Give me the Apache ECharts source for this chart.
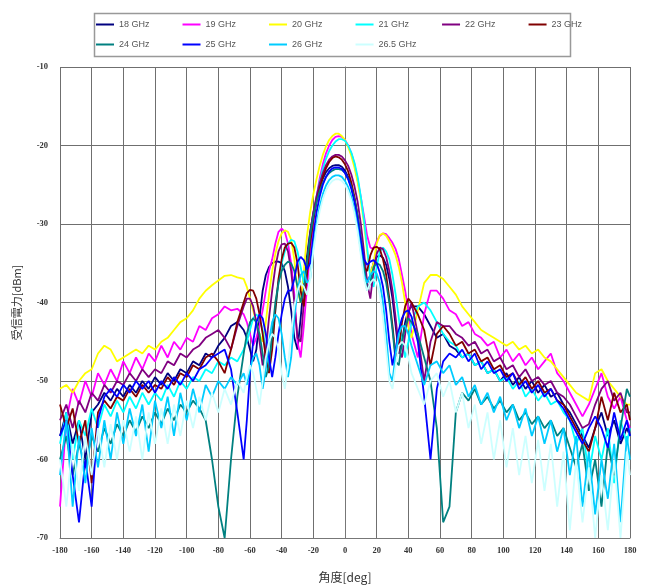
<!DOCTYPE html>
<html>
<head>
<meta charset="utf-8">
<script src="https://cdn.jsdelivr.net/npm/echarts@6.0.0/dist/echarts.min.js"></script>
<style>
  html, body { margin: 0; padding: 0; background: #fff; }
  #main { width: 648px; height: 588px; }
</style>
</head>
<body>
<div id="main"></div>
<script>
// angle grid [deg]: 4 deg steps outside, 2 deg steps around the main lobe
var angles = [
  -180,-176,-172,-168,-164,-160,-156,-152,-148,-144,-140,-136,-132,-128,-124,-120,-116,-112,-108,-104,-100,-96,-92,-88,-84,-80,-76,-72,-68,-64,
  -62,-60,-58,-56,-54,-52,-50,-48,-46,-44,-42,-40,-38,-36,-34,-32,-30,-28,-26,-24,-22,-20,-18,-16,-14,-12,-10,-8,-6,-4,-2,0,2,4,6,8,10,12,14,16,18,20,22,24,26,28,30,32,34,36,38,40,42,
  46,50,54,58,62,66,70,74,78,82,86,90,94,98,102,106,110,114,118,122,126,130,134,138,142,146,150,154,158,162,166,170,174,178,180
];

// received power [dBm] per frequency
var p18 = [
  -57,-54,-58,-55,-60,-54,-53,-51.5,-52.5,-51,-52,-50.5,-51.5,-50,-51,-49.5,-50.5,-49,-50,-48.5,-49,-47.5,-48,-46.5,-47,-45.5,-44.5,-43,-42.5,-43.5,
  -44.5,-46,-47.5,-46,-42,-38.5,-36.5,-35.5,-35,-34.8,-34.8,-35,-36,-38,-41,-44.5,-46,-42,-37.5,-34,-31,-28.6,-26.8,-25.3,-24.2,-23.4,-22.9,-22.6,-22.5,-22.5,-22.7,-23.2,-24,-25.2,-26.8,-29,-31.8,-35,-37.5,-36.5,-35,-34.2,-34,-34.3,-35.2,-37,-39.5,-43,-46.5,-45,-42.5,-41,-40.5,
  -40.5,-41.5,-43,-44.5,-44,-45.5,-46,-47,-46.5,-48,-47.5,-49,-48.5,-50,-49,-50.5,-49.5,-51,-50,-51.5,-50.5,-52,-51.5,-53,-54,-55.5,-57,-58.5,-56,-54,-57,-55,-58,-56,-57
];
var p19 = [
  -66,-55,-51,-53,-50,-52,-49,-50.5,-48.5,-50,-47.5,-49,-47,-48.5,-46.5,-47.5,-45.5,-47,-45,-46,-44.5,-45,-43,-43.5,-42,-41.5,-40.5,-41,-40.8,-41.5,
  -42.5,-44,-45.5,-44.5,-43,-41,-38.5,-36,-34.5,-32.5,-31,-30.6,-31,-32.5,-35,-39,-45,-47,-43,-38,-33.5,-29.8,-26.6,-24.2,-22.4,-21,-20,-19.3,-18.9,-18.8,-18.9,-19.3,-20,-21,-22.4,-24.4,-26.6,-29,-31.5,-33,-33.2,-32.2,-31.5,-31.2,-31.3,-31.8,-32.4,-33.2,-34.5,-36.5,-38.5,-41,-44,
  -47,-41.5,-38.5,-38.5,-39.5,-41,-41.5,-43,-42.5,-44,-44.5,-45.5,-45,-47,-46,-47.5,-46.5,-48,-47,-48.5,-47.5,-46.5,-49,-50,-51.5,-53,-54.5,-53,-51,-49,-52,-53.5,-52,-55,-56
];
var p20 = [
  -51,-50.5,-51.5,-50,-49,-48.5,-46.5,-45.5,-46,-47.5,-47,-46.5,-46,-46.5,-45.5,-46,-45,-44.5,-43.5,-42.5,-42,-41,-39.5,-38.5,-37.8,-37.2,-36.6,-36.5,-36.8,-37,
  -38,-39.5,-41,-42.5,-44,-45,-42.5,-39,-36,-33.8,-32.2,-31.2,-30.8,-31,-32,-34.5,-38.5,-40,-36,-31.5,-28.5,-26.2,-24.3,-22.6,-21.2,-20.1,-19.3,-18.8,-18.5,-18.5,-18.8,-19.3,-20.2,-21.3,-22.8,-24.7,-27,-30,-33.5,-36.5,-35,-32.5,-31.4,-31.2,-31.5,-32.2,-33,-34,-35.5,-37.5,-40,-43,-44.5,
  -41,-37.5,-36.5,-36.5,-37,-38,-39,-40.5,-41.5,-42.5,-43.5,-44,-44.5,-45,-45.5,-45,-46,-45.5,-46.5,-46,-47,-47.5,-48.5,-49.5,-50.5,-51.5,-52,-52.5,-49,-48.5,-50,-51,-52,-53,-53
];
var p21 = [
  -58,-54,-60,-55,-57,-53.5,-56,-53,-54.5,-52.5,-54,-52,-53.5,-51.5,-53,-51.5,-52.5,-50.5,-52,-50,-51,-49.5,-50,-48.5,-49,-47.5,-48,-47,-47.5,-46,
  -45,-43.5,-42,-41.5,-42,-43.5,-46,-48,-45,-41,-37.5,-35,-33.5,-32.5,-32,-32.2,-33.5,-35.5,-37.5,-36,-32,-29,-26.6,-24.6,-23,-21.7,-20.7,-20,-19.5,-19.2,-19.2,-19.4,-20,-20.9,-22.2,-24,-26.5,-29.5,-33,-37,-38,-35.5,-33.5,-33,-33.5,-34.5,-36.5,-39,-42,-45,-47,-45,-42.5,
  -40.5,-40,-41,-42.5,-44,-45,-45.5,-47,-46.5,-48,-47.5,-49,-48.5,-50,-49.5,-51,-50,-52,-51,-52.5,-51.5,-53,-52.5,-54,-55,-58,-56,-62,-57,-60,-56,-63,-55,-58,-56
];
var p22 = [
  -55,-53,-56,-52.5,-54,-51.5,-52.5,-50.5,-51.5,-50,-50.5,-49,-50,-48.5,-49.5,-48.5,-49,-47.5,-48,-46.5,-47,-46,-45.5,-44.5,-44,-43.5,-44.5,-46,-43,-40.5,
  -39.5,-39.5,-40.5,-42.5,-45,-48,-46,-42,-38.5,-35.5,-33.5,-32.6,-32.5,-33.5,-36,-40,-44.5,-45,-40,-35,-31.2,-28.5,-26.5,-24.8,-23.5,-22.5,-21.8,-21.4,-21.2,-21.2,-21.4,-21.9,-22.6,-23.7,-25.2,-27.2,-30,-33.5,-37.5,-39.5,-36,-33.8,-33,-33.2,-34.2,-36,-38.5,-42,-46,-47,-44,-41.5,-40,
  -44,-50,-45,-42.5,-43,-43,-44,-44.5,-45.5,-45,-46.5,-46,-47.5,-47,-48.5,-48,-49.5,-48.5,-50,-49.5,-50.5,-50,-51.5,-52,-53,-54.5,-56,-55.5,-53,-51,-50,-52.5,-51.5,-54,-54
];
var p23 = [
  -53,-56,-53.5,-58,-55,-63,-54,-52.5,-53.5,-52,-52.5,-51,-52,-50.5,-51.5,-50.5,-51,-49.5,-50.5,-49,-49.5,-48,-48.5,-47,-46.5,-47.5,-49,-46,-42.5,-40,
  -38.8,-38.4,-38.5,-39.5,-41.5,-44,-47,-49,-46,-41,-37,-34.5,-33,-32.5,-32.4,-33,-35,-38.5,-40.5,-36.5,-32.5,-29.5,-27.2,-25.5,-24,-22.9,-22.1,-21.6,-21.4,-21.5,-21.8,-22.4,-23.3,-24.7,-26.6,-29.2,-32.5,-35.5,-36,-34,-33,-32.9,-33.2,-34.5,-36.5,-39.5,-43,-47,-46,-42.5,-40.5,-39.5,-40,
  -41.5,-43.5,-48,-44,-43,-44,-45.5,-45,-46.5,-46,-47.5,-47,-48.5,-48,-49.5,-49,-50.5,-49.5,-51,-50,-51.5,-51,-52.5,-53,-54.5,-56,-57.5,-59,-56,-52,-55,-51.5,-54,-53,-55
];
var p24 = [
  -60,-57,-62,-58,-61,-57,-59,-56,-58,-55.5,-57,-55,-56.5,-54.5,-56,-54,-55.5,-53.5,-55,-53,-54,-52.5,-53.5,-55,-60,-66,-70,-60,-52,-46.5,
  -44,-42.5,-42,-42.5,-44,-46.5,-49.5,-48,-44,-40,-37.5,-36,-35.2,-34.8,-35,-36,-38,-40,-38.5,-35,-31.5,-29,-27.2,-25.8,-24.8,-24,-23.5,-23.2,-23,-23,-23.1,-23.5,-24.2,-25.3,-26.9,-29,-31.8,-35.5,-38.5,-37.5,-35.5,-35,-35.2,-36,-37.5,-40,-43.5,-47.5,-48,-45,-43,-42,-42.5,
  -44,-47,-50,-56,-68,-66,-54,-51.5,-52.5,-51,-53,-52,-53.5,-52.5,-54,-53,-55,-54,-55.5,-54.5,-56,-55,-57,-56,-58.5,-61,-58,-64,-60,-66,-58,-62,-56,-51,-52
];
var p25 = [
  -57,-55,-62,-68,-60,-66,-55,-52,-51,-52,-50.5,-51.5,-50,-51,-50,-51.5,-50,-51,-49.5,-50.5,-49,-50,-48.5,-48,-47,-46.5,-46,-48.5,-54,-60,
  -55,-49,-45,-42.5,-41.5,-42,-44,-47,-49.5,-47,-44,-41.5,-39.5,-38.5,-38.5,-37,-34.8,-34.2,-34.6,-35.8,-35,-31.5,-28.5,-26.5,-25,-24,-23.3,-22.9,-22.8,-22.8,-23,-23.5,-24.3,-25.5,-27.2,-29.5,-32.2,-34.5,-35.2,-34.8,-34.6,-35,-36.2,-38,-41,-45,-48,-46,-43.5,-42,-41.2,-41,-41.8,
  -45,-52,-60,-51,-47.5,-46.5,-47,-46,-47.5,-46.5,-48.5,-47.5,-49,-48.5,-50,-49,-51,-50,-51.5,-50.5,-52,-51,-52.5,-53.5,-55,-56.5,-58,-56,-54.5,-56,-58.5,-54,-57.5,-55,-57
];
var p26 = [
  -62,-55,-66,-57,-63,-56,-61,-55,-60,-54,-58,-53.5,-57,-53,-59,-52.5,-56,-52,-57,-51.5,-55,-51,-54,-50.5,-52,-50,-51,-49.5,-50.5,-49,
  -50.5,-48.5,-47,-46.5,-48,-51,-48.5,-45,-42.5,-41.5,-42,-44,-47,-49.5,-47,-42,-38.5,-36.5,-36,-37.5,-37,-33,-30,-27.8,-26.2,-25.1,-24.4,-24,-23.8,-23.8,-24,-24.5,-25.3,-26.5,-28.2,-30.5,-33.5,-36.5,-37.5,-36.5,-36,-36.3,-37.5,-40,-44,-49,-50,-46.5,-44,-43,-43,-44,-45.5,
  -48,-50.5,-48,-47.5,-49,-48,-50.5,-49.5,-52,-50.5,-53,-51.5,-54,-52,-55,-53,-56,-53.5,-57,-54.5,-58,-55,-59,-56,-62,-57,-66,-59,-67,-60,-65,-58,-68,-57,-60
];
var p265 = [
  -60,-66,-58,-64,-57,-62,-56,-61,-55.5,-60,-55,-59,-54.5,-60,-54,-58,-53.5,-58,-53,-57,-52.5,-56,-52,-55,-51.5,-54,-51,-53,-50,-51.5,
  -49.5,-48,-49,-51,-53,-50,-47,-45,-44,-44.5,-46,-49,-51,-48,-44,-40.5,-38.5,-37.5,-38,-39,-37,-33.5,-30.6,-28.4,-26.8,-25.7,-25,-24.5,-24.3,-24.3,-24.5,-25,-25.8,-27,-28.7,-31,-34,-37,-38.5,-37.5,-37,-37.5,-39,-42,-46,-50,-51,-48,-45.5,-45,-45.5,-47,-49,
  -51,-53,-50,-49,-52,-50,-54,-51.5,-56,-53,-58,-54,-60,-55,-61,-56,-62,-57,-63,-57.5,-64,-58,-66,-59,-69,-60,-68,-61,-70,-62,-69,-60,-70,-59,-62
];

var names = ['18 GHz', '19 GHz', '20 GHz', '21 GHz', '22 GHz', '23 GHz', '24 GHz', '25 GHz', '26 GHz', '26.5 GHz'];
var colors = ['#000080', '#FF00FF', '#FFFF00', '#00FFFF', '#800080', '#800000', '#008080', '#0000FF', '#00CCFF', '#CCFFFF'];
var power = [p18, p19, p20, p21, p22, p23, p24, p25, p26, p265];

function toPairs(vals) {
  return angles.map(function (a, i) { return [a, vals[i]]; });
}

var chart = echarts.init(document.getElementById('main'));

var legendBase = {
  left: 96,
  orient: 'horizontal',
  icon: 'rect',
  itemWidth: 18,
  itemHeight: 2,
  itemGap: 33,
  padding: 0,
  textStyle: { fontSize: 9, color: '#555', fontFamily: 'Liberation Sans' }
};

var option = {
  backgroundColor: '#fff',
  animation: false,
  color: colors,
  graphic: [{
    type: 'rect',
    left: 92,
    top: 11,
    shape: { width: 476, height: 43 },
    style: { fill: 'none', stroke: '#999', lineWidth: 1.5 },
    z: -1
  }],
  legend: [
    Object.assign({}, legendBase, { top: 20, data: names.slice(0, 6) }),
    Object.assign({}, legendBase, { top: 40, data: names.slice(6) })
  ],
  grid: { left: 60, right: 18, top: 67, bottom: 50, containLabel: false },
  xAxis: {
    type: 'value',
    min: -180,
    max: 180,
    interval: 20,
    name: '角度[deg]',
    nameLocation: 'middle',
    nameGap: 33,
    nameTextStyle: { fontSize: 12, color: '#333', fontFamily: 'Noto Sans CJK JP' },
    axisLine: { lineStyle: { color: '#777', width: 1 } },
    axisTick: { show: false },
    axisLabel: { fontSize: 8.5, color: '#333', fontFamily: 'Liberation Serif', fontWeight: 'bold', margin: 8 },
    splitLine: { show: true, lineStyle: { color: '#6f6f6f', width: 1 } }
  },
  yAxis: {
    type: 'value',
    min: -70,
    max: -10,
    interval: 10,
    name: '受信電力[dBm]',
    nameLocation: 'middle',
    nameRotate: 90,
    nameGap: 38,
    nameTextStyle: { fontSize: 11, color: '#333', fontFamily: 'Noto Sans CJK JP' },
    axisLine: { show: true, lineStyle: { color: '#777', width: 1 } },
    axisTick: { show: false },
    axisLabel: { fontSize: 8.5, color: '#333', fontFamily: 'Liberation Serif', fontWeight: 'bold', margin: 12 },
    splitLine: { show: true, lineStyle: { color: '#6f6f6f', width: 1 } }
  },
  series: names.map(function (n, i) {
    return {
      name: n,
      type: 'line',
      data: toPairs(power[i]),
      symbol: 'none',
      lineStyle: { width: 1.8, color: colors[i] },
      itemStyle: { color: colors[i] }
    };
  })
};

chart.setOption(option);
</script>
</body>
</html>
